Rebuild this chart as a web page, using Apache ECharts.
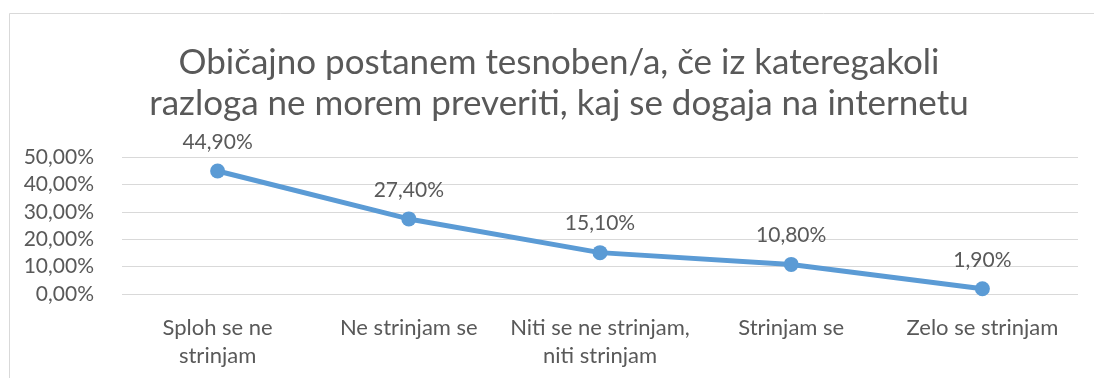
<!DOCTYPE html>
<html>
<head>
<meta charset="utf-8">
<script src="https://cdn.jsdelivr.net/npm/echarts@6/dist/echarts.min.js"></script>
<style>
  html, body { margin: 0; padding: 0; background: #fff; }
  #chart { width: 1094px; height: 378px; }
</style>
</head>
<body>
<div id="chart"></div>
<script>
// Survey answers and share of respondents (percent)
const categories = [
  'Sploh se ne\nstrinjam',
  'Ne strinjam se',
  'Niti se ne strinjam,\nniti strinjam',
  'Strinjam se',
  'Zelo se strinjam'
];
const values = [44.9, 27.4, 15.1, 10.8, 1.9];
const titleText = 'Običajno postanem tesnoben/a, če iz kateregakoli\nrazloga ne morem preveriti, kaj se dogaja na internetu';

const fmt = v => v.toFixed(2).replace('.', ',') + '%';
const font = 'Lato, "Liberation Sans", sans-serif';
const textColor = '#595959';

const chart = echarts.init(document.getElementById('chart'), null, { renderer: 'canvas' });
chart.setOption({
  animation: false,
  backgroundColor: '#ffffff',
  graphic: [{
    type: 'rect',
    shape: { x: 9.5, y: 13.5, width: 1200, height: 500 },
    style: { fill: 'none', stroke: '#d9d9d9', lineWidth: 1 },
    silent: true
  }],
  title: {
    text: titleText,
    left: 559,
    textAlign: 'center',
    top: 42,
    padding: 0,
    textStyle: {
      fontFamily: font,
      fontSize: 35,
      fontWeight: 'normal',
      color: textColor,
      lineHeight: 41
    }
  },
  grid: { left: 122, right: 16, top: 157, bottom: 84, containLabel: false },
  xAxis: {
    type: 'category',
    data: categories,
    boundaryGap: true,
    axisLine: { show: false },
    axisTick: { show: false },
    axisLabel: {
      fontFamily: font,
      fontSize: 22,
      color: textColor,
      lineHeight: 28,
      margin: 20,
      interval: 0
    }
  },
  yAxis: {
    type: 'value',
    min: 0,
    max: 50,
    interval: 10,
    axisLine: { show: false },
    axisTick: { show: false },
    splitLine: { lineStyle: { color: '#d9d9d9', width: 1 } },
    axisLabel: {
      fontFamily: font,
      fontSize: 21,
      color: textColor,
      margin: 28,
      formatter: v => fmt(v)
    }
  },
  series: [{
    type: 'line',
    data: values,
    symbol: 'circle',
    symbolSize: 15,
    lineStyle: { color: '#5b9bd5', width: 5 },
    itemStyle: { color: '#5b9bd5' },
    label: {
      show: true,
      position: 'top',
      distance: 11,
      fontFamily: font,
      fontSize: 21,
      color: textColor,
      formatter: p => fmt(p.value)
    }
  }]
});
</script>
</body>
</html>
